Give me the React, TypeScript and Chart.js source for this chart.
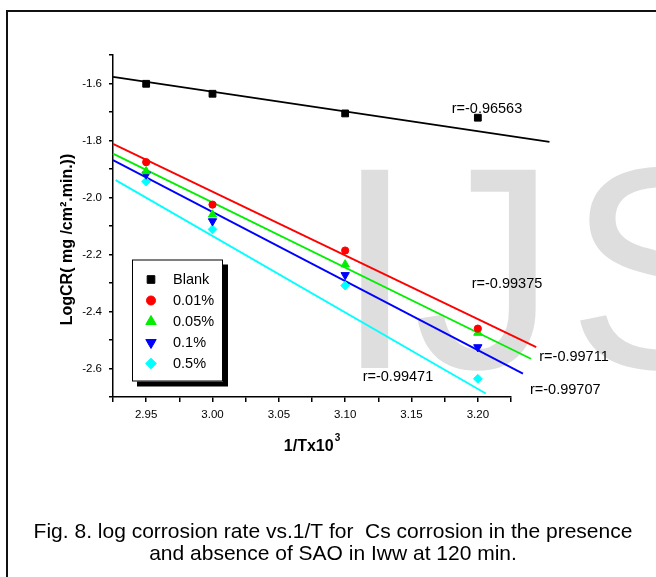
import React, { useEffect, useRef } from 'react';
import { Chart, registerables } from 'chart.js';
import { drawPoint } from 'chart.js/helpers';

Chart.register(...registerables);

const FONT = '"Liberation Sans", Arial, Helvetica, sans-serif';

// ---- data ----
const invTemp = [2.95, 3.0, 3.1, 3.2];
const seriesNames = ['Blank', '0.01%', '0.05%', '0.1%', '0.5%'];
const logCRBlank = [-1.601, -1.636, -1.705, -1.72];
const logCR001 = [-1.876, -2.025, -2.186, -2.46];
const logCR005 = [-1.908, -2.06, -2.235, -2.475];
const logCR01 = [-1.919, -2.083, -2.272, -2.525];
const logCR05 = [-1.944, -2.112, -2.309, -2.636];

// fitted straight lines (start / end) per series
const fitXStart = [2.925, 2.925, 2.925, 2.925, 2.927];
const fitXEnd = [3.254, 3.244, 3.24, 3.234, 3.206];
const fitYStart = [-1.577, -1.812, -1.846, -1.869, -1.939];
const fitYEnd = [-1.805, -2.525, -2.566, -2.618, -2.688];

// correlation coefficient annotations (left edge x, middle y in data units)
const rTexts = ['r=-0.96563', 'r=-0.99375', 'r=-0.99711', 'r=-0.99707', 'r=-0.99471'];
const rX = [3.1803, 3.1954, 3.2463, 3.2393, 3.1132];
const rY = [-1.691, -2.305, -2.559, -2.676, -2.629];

const xTickLabels = ['2.95', '3.00', '3.05', '3.10', '3.15', '3.20'];
const yTickLabels = ['-1.6', '-1.8', '-2.0', '-2.2', '-2.4', '-2.6'];

const yTitle = 'LogCR( mg /cm\u00B2.min.))';
const xTitle = '1/Tx10';
const xTitleSup = '3';
const captionLines = [
  'Fig. 8. log corrosion rate vs.1/T for  Cs corrosion in the presence',
  'and absence of SAO in Iww at 120 min.',
];
const watermarkLetters = ['I', 'J', 'S'];

// ---- styles ----
const colors = ['#000000', '#ff0000', '#00ee00', '#0000ff', '#00ffff'];
const pointStyles = ['rect', 'circle', 'triangle', 'triangle', 'rectRot'];
const pointRotations = [0, 0, 0, 180, 0];
const pointRadii = [4.8, 3.6, 4.8, 4.8, 4.4];
const legendRadii = [5.4, 4.5, 6, 6, 5.3];
const watermarkX = [334.7, 413, 567];

const seriesValues = [logCRBlank, logCR001, logCR005, logCR01, logCR05];

const decorPlugin = {
  id: 'decor',
  beforeDraw(chart: any) {
    const ctx = chart.ctx;
    ctx.save();
    ctx.fillStyle = '#ffffff';
    ctx.fillRect(0, 0, chart.width, chart.height);
    // watermark
    ctx.fillStyle = '#dedede';
    ctx.font = `288px ${FONT}`;
    ctx.textBaseline = 'alphabetic';
    ctx.textAlign = 'left';
    watermarkLetters.forEach((l, i) => ctx.fillText(l, watermarkX[i], 368));
    // frame
    ctx.strokeStyle = '#111111';
    ctx.lineWidth = 2;
    ctx.beginPath();
    ctx.moveTo(7, chart.height);
    ctx.lineTo(7, 11);
    ctx.lineTo(chart.width, 11);
    ctx.stroke();
    ctx.restore();
  },
  afterDraw(chart: any) {
    const ctx = chart.ctx;
    const xs = chart.scales.x;
    const ys = chart.scales.y;
    ctx.save();
    ctx.fillStyle = '#000000';
    // r annotations
    ctx.font = `14.5px ${FONT}`;
    ctx.textAlign = 'left';
    ctx.textBaseline = 'middle';
    rTexts.forEach((t, i) => {
      ctx.fillText(t, xs.getPixelForValue(rX[i]), ys.getPixelForValue(rY[i]));
    });
    // y title
    ctx.save();
    ctx.font = `bold 16px ${FONT}`;
    ctx.textAlign = 'center';
    ctx.textBaseline = 'alphabetic';
    ctx.translate(72, 239.5);
    ctx.rotate(-Math.PI / 2);
    ctx.fillText(yTitle, 0, 0);
    ctx.restore();
    // x title with superscript
    ctx.font = `bold 16px ${FONT}`;
    const wMain = ctx.measureText(xTitle).width;
    ctx.font = `bold 10px ${FONT}`;
    const wSup = ctx.measureText(xTitleSup).width;
    const cx = (chart.chartArea.left + chart.chartArea.right) / 2;
    const startX = cx - (wMain + wSup + 1) / 2;
    ctx.textAlign = 'left';
    ctx.textBaseline = 'alphabetic';
    ctx.font = `bold 16px ${FONT}`;
    ctx.fillText(xTitle, startX, 450.5);
    ctx.font = `bold 10px ${FONT}`;
    ctx.fillText(xTitleSup, startX + wMain + 1, 440.5);
    // caption
    ctx.font = `21px ${FONT}`;
    ctx.textAlign = 'center';
    ctx.fillText(captionLines[0], 333, 537.5);
    ctx.fillText(captionLines[1], 333, 560);
    // legend
    const lx = 132, ly = 259.5, lw = 91, lh = 122;
    ctx.fillStyle = '#000000';
    ctx.fillRect(lx + 5, ly + 5, lw, lh);
    ctx.fillStyle = '#ffffff';
    ctx.fillRect(lx, ly, lw, lh);
    ctx.strokeStyle = '#000000';
    ctx.lineWidth = 1;
    ctx.strokeRect(lx + 0.5, ly + 0.5, lw - 1, lh - 1);
    ctx.font = `14.5px ${FONT}`;
    ctx.textAlign = 'left';
    ctx.textBaseline = 'middle';
    seriesNames.forEach((name, i) => {
      const rowY = 279.5 + i * 21;
      ctx.fillStyle = colors[i];
      ctx.strokeStyle = colors[i];
      drawPoint(ctx, { pointStyle: pointStyles[i], radius: legendRadii[i], rotation: pointRotations[i], borderWidth: 1 }, 151, rowY);
      ctx.fillStyle = '#000000';
      ctx.fillText(name, 173, rowY);
    });
    ctx.restore();
  },
};

export default function App() {
  const ref = useRef<HTMLCanvasElement | null>(null);
  useEffect(() => {
    document.body.style.margin = '0';
    const canvas = ref.current;
    if (!canvas) return;
    const datasets: any[] = [];
    seriesNames.forEach((name, i) => {
      datasets.push({
        label: name + ' fit',
        data: [
          { x: fitXStart[i], y: fitYStart[i] },
          { x: fitXEnd[i], y: fitYEnd[i] },
        ],
        showLine: true,
        borderColor: colors[i],
        backgroundColor: colors[i],
        borderWidth: 1.8,
        pointRadius: 0,
        clip: false,
        order: 2,
      });
    });
    seriesNames.forEach((name, i) => {
      datasets.push({
        label: name,
        data: invTemp.map((x, j) => ({ x, y: seriesValues[i][j] })),
        showLine: false,
        borderColor: colors[i],
        backgroundColor: colors[i],
        pointStyle: pointStyles[i],
        pointRotation: pointRotations[i],
        pointRadius: pointRadii[i],
        pointBorderWidth: 1,
        clip: false,
        order: 1,
      });
    });
    const chart = new Chart(canvas, {
      type: 'scatter',
      data: { datasets },
      options: {
        responsive: false,
        animation: false,
        events: [],
        layout: { padding: { left: 63, top: 55, right: 145, bottom: 150 } },
        plugins: { legend: { display: false }, tooltip: { enabled: false }, title: { display: false } },
        scales: {
          x: {
            type: 'linear',
            min: 2.925,
            max: 3.225,
            afterFit: (s: any) => { s.height = 30; },
            border: { display: true, color: '#000000', width: 1.5 },
            grid: { drawOnChartArea: false, drawTicks: true, tickLength: 5, color: '#000000', lineWidth: 1.5 },
            ticks: {
              stepSize: 0.025,
              autoSkip: false,
              maxRotation: 0,
              minRotation: 0,
              padding: 6,
              color: '#000000',
              font: { family: FONT, size: 11.5 },
              callback: (v: any) => {
                const s = Number(v).toFixed(2);
                return xTickLabels.includes(s) ? s : '';
              },
            },
          },
          y: {
            type: 'linear',
            min: -2.7,
            max: -1.5,
            afterFit: (s: any) => { s.width = 50; },
            border: { display: true, color: '#000000', width: 1.5 },
            grid: { drawOnChartArea: false, drawTicks: true, tickLength: 4, color: '#000000', lineWidth: 1.5 },
            ticks: {
              stepSize: 0.1,
              autoSkip: false,
              padding: 7,
              color: '#000000',
              font: { family: FONT, size: 11.5 },
              callback: (v: any) => {
                const s = Number(v).toFixed(1);
                return yTickLabels.includes(s) ? s : '';
              },
            },
          },
        },
      },
      plugins: [decorPlugin],
    });
    return () => chart.destroy();
  }, []);
  return <canvas ref={ref} width={656} height={577} style={{ display: 'block' }} />;
}
